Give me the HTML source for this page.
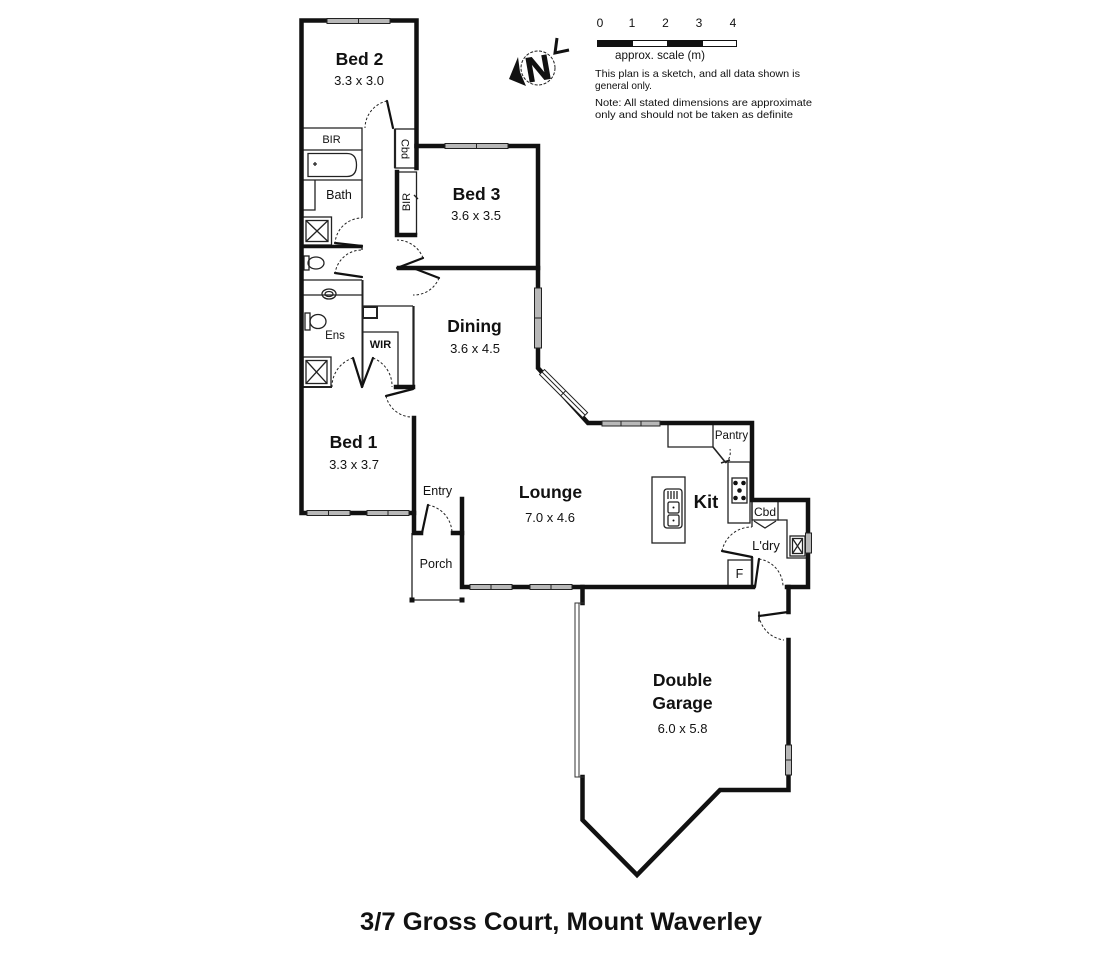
<!DOCTYPE html>
<html><head><meta charset="utf-8"><style>
html,body{margin:0;padding:0;background:#fff;}
svg{display:block;}
text{font-family:"Liberation Sans",sans-serif;fill:#111;}
.b{font-weight:bold;}
</style></head><body>
<svg width="1118" height="970" viewBox="0 0 1118 970" xmlns="http://www.w3.org/2000/svg">
<rect width="1118" height="970" fill="#fff"/>

<!-- thin interior lines -->
<g fill="none" stroke="#222" stroke-width="1.3">
  <path d="M302,128 H362 V150"/>
  <path d="M302,150 H362 V180 H302"/>
  <path d="M308,153.5 H347 Q356.5,153.5 356.5,165 Q356.5,176.5 347,176.5 H308 Z"/>
  <path d="M313,164 h4 M315,162 v4"/>
  <path d="M315,180 V210 H302"/>
  <path d="M362,180 V218"/>
  <rect x="302.5" y="217" width="29" height="28"/>
  <rect x="306" y="220.5" width="22" height="21"/>
  <path d="M306,220.5 L328,241.5 M328,220.5 L306,241.5"/>
  <path d="M362,248 V250"/>
  <rect x="304" y="256" width="5" height="14"/>
  <ellipse cx="316" cy="263" rx="8" ry="6"/>
  <path d="M302,280 H362"/>
  <path d="M302,295 H362"/>
  <ellipse cx="329" cy="294" rx="7" ry="5"/>
  <ellipse cx="329" cy="294" rx="4" ry="2.5"/>
  <rect x="305" y="313" width="5" height="17"/>
  <ellipse cx="318" cy="321.5" rx="8" ry="7"/>
  <rect x="303" y="357" width="28" height="30"/>
  <rect x="306" y="360.5" width="21" height="23"/>
  <path d="M306,360.5 L327,383.5 M327,360.5 L306,383.5"/>
  <path d="M362.5,280 V387" stroke-width="2"/>
  <path d="M302,387 H332" stroke-width="2"/>
  <path d="M362,306 H413"/>
  <rect x="363" y="307" width="14" height="11" stroke-width="2"/>
  <path d="M363,332 H398 V387"/>
  <path d="M413.5,306 V387" stroke-width="2.2"/>
  <rect x="395" y="129" width="21" height="39" />
  <path d="M395,129 V168" stroke-width="2.2"/>
  <path d="M397,172 H416.5 V235"/>
  <path d="M414,195 l4,4"/>
  <path d="M412,533 V600 H462"/>
  <path d="M668,425 V447 H713 V425"/>
  <path d="M713,447 L726,463" stroke-width="1.6"/>
  <path d="M721,463 L730,460" stroke-width="1.6"/>
  <rect x="728" y="462" width="22" height="61"/>
  <rect x="732" y="478" width="15" height="25"/>
  <rect x="652" y="477" width="33" height="66"/>
  <rect x="664" y="489" width="18" height="39" rx="3"/>
  <rect x="668" y="502" width="11" height="11" rx="1.5"/>
  <rect x="668" y="515" width="11" height="11" rx="1.5"/>
  <path d="M668,491 V499 M671,491 V499 M674,491 V499 M677,491 V499"/>
  <path d="M752,500 V527"/>
  <rect x="752" y="501" width="26" height="19"/>
  <path d="M778,520 H787 V558 H806"/>
  <path d="M754,521 L765,528 L776,521"/>
  <rect x="790" y="536" width="15" height="20"/>
  <rect x="792.5" y="538.5" width="10" height="15"/>
  <path d="M792.5,538.5 L802.5,553.5 M802.5,538.5 L792.5,553.5"/>
  <path d="M728,587 V560 H752"/>
  <path d="M752,557 V587" stroke-width="2.5"/>
</g>

<g fill="#111">
  <circle cx="735.5" cy="483" r="2.3"/>
  <circle cx="743.5" cy="483" r="2.3"/>
  <circle cx="739.5" cy="490.5" r="2.3"/>
  <circle cx="735.5" cy="498" r="2.3"/>
  <circle cx="743.5" cy="498" r="2.3"/>
  <circle cx="673.5" cy="507.5" r="1"/>
  <circle cx="673.5" cy="520.5" r="1"/>
</g>

<!-- main walls -->
<g fill="none" stroke="#111" stroke-width="4.5" stroke-linecap="square" stroke-linejoin="miter">
  <path d="M416.5,168 V20.5 H301.5 V513 H414 V418"/>
  <path d="M414,513 V533 H421"/>
  <path d="M453,533 H462 V587 H753"/>
  <path d="M462,533 V499"/>
  <path d="M416.5,146 H538 V368 L588,423 H752 V500 H808 V587 H787"/>
  <path d="M399,268 H538"/>
  <path d="M397,172 V235 H415"/>
  <path d="M304,246.5 H361" stroke-width="3.5"/>
  <path d="M396,387 H413"/>
  <path d="M582.5,587 V603"/>
  <path d="M582.5,777 V820 L637,875 L720,790 H788.5 V640"/>
  <path d="M788.5,587 V612"/>
</g>

<!-- door leaves -->
<g fill="none" stroke="#111" stroke-width="2.2" stroke-linecap="round">
  <path d="M393,128 L387,101"/>
  <path d="M362,246 L335,243"/>
  <path d="M362,277 L335,273"/>
  <path d="M397,268 L423,258"/>
  <path d="M413,268 L439,278"/>
  <path d="M362,387 L353,358"/>
  <path d="M362,387 L373,358"/>
  <path d="M413,389 L386,396"/>
  <path d="M422,533 L428,505"/>
  <path d="M752,557 L722,551"/>
  <path d="M755,587 L759,559"/>
  <path d="M788,612 L759,616"/>
  <path d="M759,612 V621" stroke-width="1.5"/>
</g>

<!-- door arcs -->
<g fill="none" stroke="#222" stroke-width="1" stroke-dasharray="2.5,2">
  <path d="M387,101 A28,28 0 0 0 365,128"/>
  <path d="M335,244 A27,27 0 0 1 362,218"/>
  <path d="M335,274 A27,27 0 0 1 362,250"/>
  <path d="M423,258 A28,28 0 0 0 397,240"/>
  <path d="M439,278 A27,27 0 0 1 413,295"/>
  <path d="M353,358 A30,30 0 0 0 332,387"/>
  <path d="M373,358 A30,30 0 0 1 392,387"/>
  <path d="M386,396 A27,27 0 0 0 413,417"/>
  <path d="M428,505 A29,29 0 0 1 452,533"/>
  <path d="M722,551 A30,30 0 0 1 752,527"/>
  <path d="M759,559 A28,28 0 0 1 783,587"/>
  <path d="M759,616 A29,29 0 0 0 784,640"/>
  <path d="M726,463 A16,16 0 0 0 730,449"/>
</g>

<!-- windows -->
<g fill="#b8b8b8" stroke="#222" stroke-width="1">
  <rect x="327" y="18.5" width="63" height="5"/>
  <path d="M358.5,18.5 V23.5" fill="none"/>
  <rect x="445" y="143.5" width="63" height="5"/>
  <path d="M476.5,143.5 V148.5" fill="none"/>
  <rect x="534.5" y="288" width="7" height="60"/>
  <path d="M534.5,318 H541.5" fill="none"/>
  <rect x="602" y="421" width="58" height="5"/>
  <path d="M621,421 V426 M641,421 V426" fill="none"/>
  <rect x="307" y="510.5" width="43" height="5"/>
  <path d="M328.5,510.5 V515.5" fill="none"/>
  <rect x="367" y="510.5" width="42" height="5"/>
  <path d="M388,510.5 V515.5" fill="none"/>
  <rect x="470" y="584.5" width="42" height="5"/>
  <path d="M491,584.5 V589.5" fill="none"/>
  <rect x="530" y="584.5" width="42" height="5"/>
  <path d="M551,584.5 V589.5" fill="none"/>
  <rect x="805.5" y="533" width="6" height="20"/>
  <rect x="785.5" y="745" width="6" height="30"/>
  <path d="M785.5,760 H791.5" fill="none"/>
</g>
<g transform="translate(542,372) rotate(45)">
  <rect x="0" y="-3.5" width="61" height="7" fill="#fff" stroke="#222" stroke-width="1"/>
  <path d="M0,0 H61 M30,-3.5 V3.5" stroke="#222" stroke-width="1" fill="none"/>
</g>
<g fill="#fff" stroke="#333" stroke-width="1">
  <rect x="575" y="603" width="4" height="174"/>
  <path d="M575,603 H584 M575,777 H584" fill="none"/>
</g>
<rect x="409.5" y="597.5" width="5" height="5" fill="#111"/>
<rect x="459.5" y="597.5" width="5" height="5" fill="#111"/>

<!-- Room labels -->
<g text-anchor="middle">
  <text class="b" x="359.5" y="65" font-size="17.5">Bed 2</text>
  <text x="359" y="85" font-size="13">3.3 x 3.0</text>
  <text class="b" x="476.5" y="200" font-size="17.5">Bed 3</text>
  <text x="476" y="220" font-size="13">3.6 x 3.5</text>
  <text class="b" x="474.5" y="332" font-size="17.5">Dining</text>
  <text x="475" y="353" font-size="13">3.6 x 4.5</text>
  <text class="b" x="353.5" y="448" font-size="17.5">Bed 1</text>
  <text x="354" y="469" font-size="13">3.3 x 3.7</text>
  <text class="b" x="550.5" y="498" font-size="17.5">Lounge</text>
  <text x="550" y="522" font-size="13">7.0 x 4.6</text>
  <text class="b" x="682.5" y="686" font-size="17.5">Double</text>
  <text class="b" x="682.5" y="709" font-size="17.5">Garage</text>
  <text x="682.5" y="733" font-size="13">6.0 x 5.8</text>
  <text class="b" x="706" y="508" font-size="18.5">Kit</text>
  <text x="437.5" y="495" font-size="12.5">Entry</text>
  <text x="436" y="568" font-size="12.5">Porch</text>
  <text x="335" y="339" font-size="11.5">Ens</text>
  <text class="b" x="380.5" y="348" font-size="11">WIR</text>
  <text x="331.5" y="143" font-size="11">BIR</text>
  <text x="339" y="199" font-size="12.5">Bath</text>
  <text x="731.5" y="439" font-size="11.5">Pantry</text>
  <text x="765" y="516" font-size="12">Cbd</text>
  <text x="766" y="550" font-size="13">L'dry</text>
  <text x="739.5" y="578" font-size="12.5">F</text>
  <text x="0" y="0" font-size="11" transform="translate(401.5,149) rotate(90)">Cbd</text>
  <text x="0" y="0" font-size="11" transform="translate(410,202) rotate(-90)">BIR</text>
</g>

<!-- compass -->
<g>
  <circle cx="538" cy="68" r="17" fill="none" stroke="#222" stroke-width="1" stroke-dasharray="3,1.5"/>
  <g transform="translate(538,68) rotate(-10)">
    <text class="b" x="0" y="12.5" font-size="35" text-anchor="middle" stroke="#111" stroke-width="0.8">N</text>
  </g>
  <polygon points="518,57 509,79 526,86 520,72" fill="#111"/>
  <polyline points="557,38 555,53 569,50" fill="none" stroke="#111" stroke-width="3"/>
</g>

<!-- scale -->
<g font-size="12" text-anchor="middle">
  <text x="600" y="27">0</text>
  <text x="632" y="27">1</text>
  <text x="665.5" y="27">2</text>
  <text x="699" y="27">3</text>
  <text x="733" y="27">4</text>
</g>
<rect x="597.5" y="40.5" width="139" height="6" fill="#fff" stroke="#111" stroke-width="1"/>
<rect x="597" y="40" width="36" height="7" fill="#111"/>
<rect x="667" y="40" width="36" height="7" fill="#111"/>
<text x="615" y="59" font-size="12" textLength="90" lengthAdjust="spacingAndGlyphs">approx. scale (m)</text>
<g font-size="10.5">
  <text x="595" y="77" textLength="205" lengthAdjust="spacingAndGlyphs">This plan is a sketch, and all data shown is</text>
  <text x="595" y="89" textLength="57" lengthAdjust="spacingAndGlyphs">general only.</text>
  <text x="595" y="106" textLength="217" lengthAdjust="spacingAndGlyphs">Note: All stated dimensions are approximate</text>
  <text x="595" y="118" textLength="198" lengthAdjust="spacingAndGlyphs">only and should not be taken as definite</text>
</g>

<!-- title -->
<text class="b" x="360" y="930" font-size="25" textLength="402" lengthAdjust="spacingAndGlyphs">3/7 Gross Court, Mount Waverley</text>
</svg>
</body></html>
